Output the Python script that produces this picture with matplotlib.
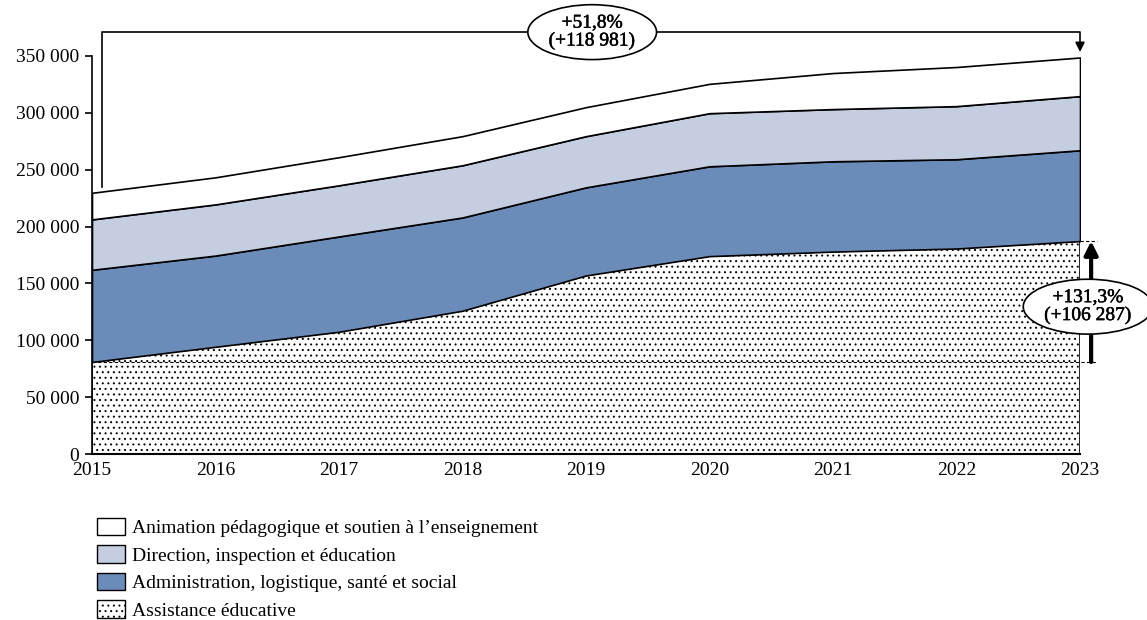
import matplotlib
matplotlib.use("Agg")
import matplotlib.pyplot as plt
import matplotlib.patheffects as pe
from matplotlib.patches import Patch
from matplotlib.ticker import FuncFormatter

# Data
years = [2015, 2016, 2017, 2018, 2019, 2020, 2021, 2022, 2023]
assistance = [80950, 94300, 107500, 126000, 157000, 174000, 178000, 180700, 187237]
administration = [81050, 80200, 83800, 82000, 77500, 79000, 79400, 78500, 79863]
direction = [44300, 45000, 45000, 45900, 45000, 46700, 45900, 46700, 47600]
animation = [23393, 23800, 24700, 25600, 25500, 25800, 31700, 34400, 33974]

labels = ["Animation pédagogique et soutien à l\u2019enseignement",
          "Direction, inspection et éducation",
          "Administration, logistique, santé et social",
          "Assistance éducative"]

blue = "#6B8BB8"
light_blue = "#C4CEE0"

plt.rcParams['font.family'] = ['Liberation Serif', 'DejaVu Serif']
plt.rcParams['hatch.linewidth'] = 0.7


def fr(v):
    return f"{int(round(v)):,}".replace(",", " ")


totals = [a + b + c + d for a, b, c, d in zip(assistance, administration, direction, animation)]

fig = plt.figure(figsize=(11.47, 6.2), dpi=100)
ax = fig.add_axes([0.0802, 0.2677, 0.8614, 0.642])

polys = ax.stackplot(years, assistance, administration, direction, animation,
                     colors=["white", blue, light_blue, "white"],
                     edgecolor="black", linewidth=1.2)
polys[0].set_hatch("...")

ax.set_xlim(2015, 2023)
ax.set_ylim(0, 350000)
ax.set_yticks(range(0, 350001, 50000))
ax.yaxis.set_major_formatter(FuncFormatter(lambda v, p: fr(v)))
ax.set_xticks(years)
ax.tick_params(axis="y", direction="out", length=5, width=1.2, labelsize=14, pad=4)
ax.tick_params(axis="x", length=0, labelsize=14, pad=6)
for s in ["top", "right"]:
    ax.spines[s].set_visible(False)
ax.spines["left"].set_linewidth(1.2)
ax.spines["bottom"].set_linewidth(1.5)

bold = [pe.withStroke(linewidth=0.35, foreground="black")]

# dashed reference lines for the assistance evolution
x_arrow = 2023.09
ax.plot([2015, 2023.14], [assistance[0]] * 2, color="black", lw=0.8,
        ls=(0, (3, 2)), clip_on=False, zorder=5)
ax.plot([2023, 2023.14], [assistance[-1]] * 2, color="black", lw=0.8,
        ls=(0, (3, 2)), clip_on=False, zorder=5)
ax.annotate("", xy=(x_arrow, assistance[-1]), xytext=(x_arrow, assistance[0]),
            arrowprops=dict(arrowstyle="-|>", lw=3, color="black",
                            mutation_scale=20, shrinkA=0, shrinkB=0),
            annotation_clip=False)
diff_a = assistance[-1] - assistance[0]
pct_a = (assistance[-1] / assistance[0] - 1) * 100
ax.text(2023.065, 129600, f"+{pct_a:.1f}%".replace(".", ",") + f"\n(+{fr(diff_a)})",
        ha="center", va="center", fontsize=14, linespacing=1.05, path_effects=bold,
        bbox=dict(boxstyle="ellipse,pad=0.1", fc="white", ec="black", lw=1.2),
        zorder=10)

# bracket for the total evolution
y_top = 371000
ax.plot([2015.08, 2015.08, 2023, 2023], [234500, y_top, y_top, 360000],
        color="black", lw=1.2, clip_on=False)
ax.annotate("", xy=(2023, 353500), xytext=(2023, 361000),
            arrowprops=dict(arrowstyle="-|>", lw=1.2, color="black",
                            mutation_scale=14, shrinkA=0, shrinkB=0),
            annotation_clip=False)
diff_t = totals[-1] - totals[0]
pct_t = (totals[-1] / totals[0] - 1) * 100
ax.text(2019.05, y_top, f"+{pct_t:.1f}%".replace(".", ",") + f"\n(+{fr(diff_t)})",
        ha="center", va="center", fontsize=14, linespacing=1.05, path_effects=bold,
        bbox=dict(boxstyle="ellipse,pad=0.1", fc="white", ec="black", lw=1.2),
        zorder=10)

handles = [Patch(facecolor="white", edgecolor="black", lw=1),
           Patch(facecolor=light_blue, edgecolor="black", lw=1),
           Patch(facecolor=blue, edgecolor="black", lw=1),
           Patch(facecolor="white", edgecolor="black", lw=1, hatch="...")]
fig.legend(handles, labels, loc="upper left", bbox_to_anchor=(0.085, 0.165),
           frameon=False, fontsize=14, handlelength=1.4, handleheight=1.0,
           handletextpad=0.35, labelspacing=0.42, borderaxespad=0, borderpad=0)

fig.savefig("out.png", dpi=100)
